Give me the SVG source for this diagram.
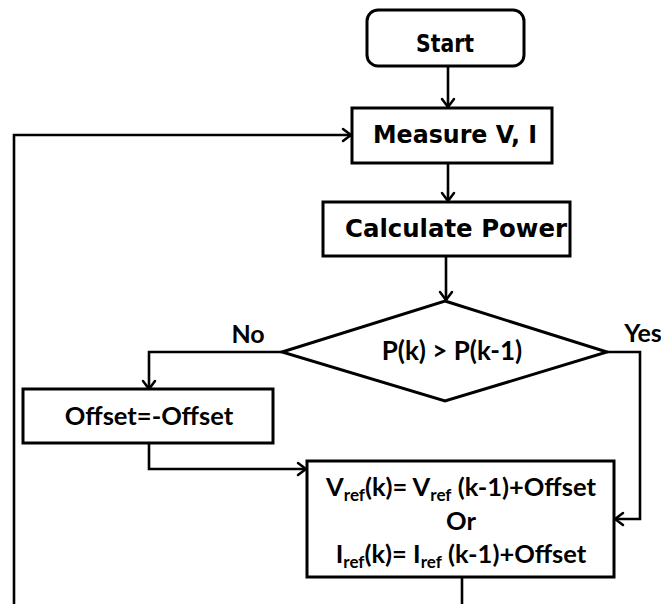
<svg xmlns="http://www.w3.org/2000/svg" width="661" height="604" viewBox="0 0 661 604">
<defs>
<marker id="arr" markerUnits="userSpaceOnUse" markerWidth="16" markerHeight="16" refX="10" refY="8" orient="auto">
<path d="M2,2 L10,8 L2,14" fill="none" stroke="#000" stroke-width="2.5" stroke-linecap="round" stroke-linejoin="round"/>
</marker>
<style>
.box{fill:#fff;stroke:#000;stroke-width:3}
.ln{fill:none;stroke:#000;stroke-width:2.6}
.g{font-family:"DejaVu Sans","Liberation Sans",sans-serif;font-weight:bold;fill:#000;text-anchor:middle}
.c{font-family:Lato,"Liberation Sans",sans-serif;font-weight:bold;fill:#000;text-anchor:middle}
.sub{font-size:17px}
</style>
</defs>
<rect width="661" height="604" fill="#fff"/>
<g id="connectors">
<path class="ln" d="M448,66 V107" marker-end="url(#arr)"/>
<path class="ln" d="M448,163 V201" marker-end="url(#arr)"/>
<path class="ln" d="M446,256 V300" marker-end="url(#arr)"/>
<path class="ln" d="M282,352 H149 V389" marker-end="url(#arr)"/>
<path class="ln" d="M607,352 H640 V519 H615" marker-end="url(#arr)"/>
<path class="ln" d="M149,443 V469 H306" marker-end="url(#arr)"/>
<path class="ln" d="M462,577 V604"/>
<path class="ln" d="M14,604 V135 H351" marker-end="url(#arr)"/>
</g>
<g id="start">
<rect class="box" x="367" y="10" width="157" height="56" rx="11"/>
<text class="g" x="445" y="52" font-size="25" textLength="58" lengthAdjust="spacingAndGlyphs">Start</text>
</g>
<g id="measure">
<rect class="box" x="352" y="108" width="200" height="55"/>
<text class="g" x="455" y="143" font-size="25" textLength="164" lengthAdjust="spacingAndGlyphs">Measure V, I</text>
</g>
<g id="calculate">
<rect class="box" x="323" y="202" width="247" height="54"/>
<text class="g" x="456" y="237" font-size="25" textLength="222" lengthAdjust="spacingAndGlyphs">Calculate Power</text>
</g>
<g id="decision">
<polygon class="box" points="445,301 607,352 445,401 282,352"/>
<text class="c" x="452" y="360" font-size="26">P(k) &gt; P(k-1)</text>
</g>
<g id="labels">
<text class="c" x="248" y="343" font-size="25">No</text>
<text class="c" x="643" y="342" font-size="25">Yes</text>
</g>
<g id="offset">
<rect class="box" x="23" y="389" width="250" height="54"/>
<text class="c" x="149" y="425" font-size="25.5">Offset=-Offset</text>
</g>
<g id="update">
<rect class="box" x="307" y="461" width="307" height="116"/>
<text class="c" x="461" y="496" font-size="25.5">V<tspan class="sub" dy="5">ref</tspan><tspan dy="-5">(k)= V</tspan><tspan class="sub" dy="5">ref</tspan><tspan dy="-5"> (k-1)+Offset</tspan></text>
<text class="c" x="461" y="530" font-size="25.5">Or</text>
<text class="c" x="461" y="563" font-size="25.5">I<tspan class="sub" dy="5">ref</tspan><tspan dy="-5">(k)= I</tspan><tspan class="sub" dy="5">ref</tspan><tspan dy="-5"> (k-1)+Offset</tspan></text>
</g>
</svg>
